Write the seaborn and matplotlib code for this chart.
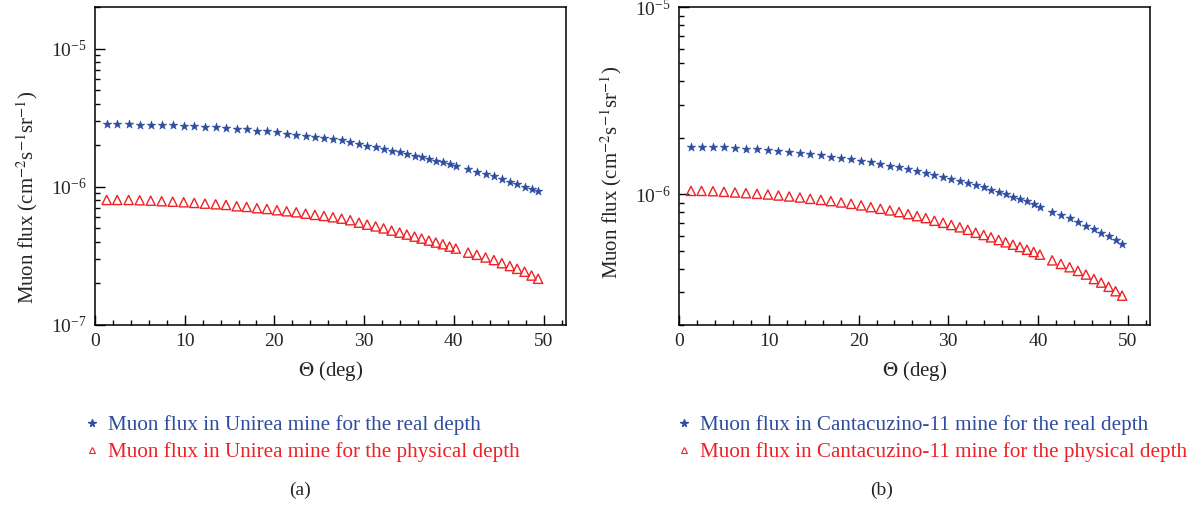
import numpy as np
import pandas as pd
import matplotlib
matplotlib.use("Agg")
import matplotlib.pyplot as plt
import seaborn as sns
from matplotlib.lines import Line2D
from matplotlib.ticker import LogLocator, MultipleLocator, NullFormatter

# zenith angle (deg), same grid for both mines
theta = [1.30, 2.48, 3.75, 4.98, 6.21, 7.43, 8.66, 9.88, 11.06, 12.26,
         13.45, 14.60, 15.79, 16.90, 18.05, 19.16, 20.28, 21.36, 22.43, 23.48,
         24.51, 25.52, 26.52, 27.49, 28.45, 29.42, 30.34, 31.28, 32.17, 33.06,
         33.95, 34.76, 35.62, 36.40, 37.21, 37.99, 38.77, 39.52, 40.22, 41.59,
         42.56, 43.53, 44.46, 45.35, 46.24, 47.05, 47.88, 48.66, 49.39]

# muon flux in units of 1e-6 cm^-2 s^-1 sr^-1
unirea_real = [2.84, 2.84, 2.84, 2.81, 2.81, 2.79, 2.78, 2.75, 2.75, 2.72,
               2.69, 2.66, 2.61, 2.60, 2.54, 2.52, 2.49, 2.43, 2.39, 2.35,
               2.29, 2.25, 2.20, 2.17, 2.11, 2.04, 1.98, 1.94, 1.88, 1.81,
               1.78, 1.73, 1.68, 1.63, 1.59, 1.54, 1.50, 1.47, 1.42, 1.34,
               1.29, 1.24, 1.19, 1.13, 1.09, 1.05, 1.00, 0.97, 0.93]
unirea_phys = [0.803, 0.803, 0.803, 0.799, 0.793, 0.786, 0.780, 0.773, 0.764, 0.755,
               0.747, 0.739, 0.723, 0.715, 0.700, 0.691, 0.677, 0.665, 0.654, 0.639,
               0.626, 0.615, 0.602, 0.588, 0.573, 0.550, 0.532, 0.517, 0.500, 0.482,
               0.466, 0.451, 0.436, 0.422, 0.408, 0.395, 0.384, 0.369, 0.357, 0.334,
               0.322, 0.308, 0.295, 0.280, 0.267, 0.255, 0.243, 0.228, 0.216]
canta_real = [1.796, 1.796, 1.786, 1.780, 1.765, 1.752, 1.737, 1.722, 1.701, 1.680,
              1.660, 1.640, 1.614, 1.588, 1.561, 1.536, 1.504, 1.481, 1.450, 1.422,
              1.393, 1.364, 1.337, 1.305, 1.273, 1.242, 1.209, 1.180, 1.152, 1.117,
              1.086, 1.059, 1.029, 1.000, 0.967, 0.940, 0.914, 0.885, 0.856, 0.805,
              0.773, 0.742, 0.707, 0.678, 0.651, 0.622, 0.595, 0.569, 0.542]
canta_phys = [1.041, 1.041, 1.037, 1.029, 1.021, 1.012, 1.004, 0.996, 0.984, 0.972,
              0.960, 0.944, 0.932, 0.918, 0.903, 0.888, 0.871, 0.852, 0.835, 0.819,
              0.802, 0.782, 0.763, 0.745, 0.721, 0.703, 0.684, 0.665, 0.645, 0.622,
              0.605, 0.588, 0.569, 0.553, 0.537, 0.522, 0.505, 0.491, 0.475, 0.443,
              0.424, 0.407, 0.389, 0.372, 0.352, 0.337, 0.320, 0.303, 0.287]

BLUE = "#2E4DA0"
RED = "#EE2226"

sns.set_theme(style="ticks")
plt.rcParams["font.family"] = ["Liberation Serif", "DejaVu Serif"]
plt.rcParams["mathtext.fontset"] = "stix"
plt.rcParams["axes.linewidth"] = 1.1

W, H = 1198, 509
fig = plt.figure(figsize=(W / 100, H / 100), dpi=100)


def px_axes(x0, y0, x1, y1):
    return fig.add_axes([x0 / W, 1 - y1 / H, (x1 - x0) / W, (y1 - y0) / H])


def draw_panel(ax, real, phys, ylim, mine, tag, tag_x, leg_x, label_y):
    df = pd.DataFrame({"theta": theta,
                       "real": np.array(real) * 1e-6,
                       "phys": np.array(phys) * 1e-6})
    sns.scatterplot(data=df, x="theta", y="real", marker="*", s=42,
                    color=BLUE, edgecolor=BLUE, linewidth=0.4, ax=ax, zorder=3)
    sns.scatterplot(data=df, x="theta", y="phys", marker="^", s=44,
                    color=RED, facecolor="none", edgecolor=RED, linewidth=1.0,
                    ax=ax, zorder=3)
    ax.set_yscale("log")
    ax.set_xlim(0, 52.5)
    ax.set_ylim(*ylim)
    ax.xaxis.set_major_locator(MultipleLocator(10))
    ax.xaxis.set_minor_locator(MultipleLocator(2))
    ax.yaxis.set_major_locator(LogLocator(base=10))
    ax.yaxis.set_minor_locator(LogLocator(base=10, subs=np.arange(2, 10)))
    ax.yaxis.set_minor_formatter(NullFormatter())
    ax.tick_params(which="both", direction="in", top=False, right=False,
                   labelsize=14, color="black", width=1.0, pad=6)
    ax.tick_params(which="major", length=7)
    ax.tick_params(which="minor", length=3.5)
    for sp in ax.spines.values():
        sp.set_color("black")
    ax.set_xlabel(r"$\Theta$ (deg)", fontsize=15, labelpad=6)
    ax.set_ylabel(r"Muon flux (cm$^{-2}$s$^{-1}$sr$^{-1}$)", fontsize=15)
    ax.yaxis.set_label_coords(-0.117, label_y)

    h1 = Line2D([], [], marker="*", ls="", color=BLUE, ms=5.5)
    h2 = Line2D([], [], marker="^", ls="", mfc="none", mec=RED, ms=4.2, mew=0.8)
    ax.legend([h1, h2],
              [f"Muon flux in {mine} mine for the real depth",
               f"Muon flux in {mine} mine for the physical depth"],
              loc="upper left", bbox_to_anchor=(leg_x / W, 1 - 415 / H),
              bbox_transform=fig.transFigure, frameon=False, fontsize=15.2,
              labelcolor=[BLUE, RED], handlelength=0.8, handletextpad=0.36,
              borderpad=0, borderaxespad=0, labelspacing=0.36)
    fig.text(tag_x / W, 1 - 490 / H, tag, ha="center", va="center", fontsize=14)


ax1 = px_axes(95, 7, 566, 325)
ax2 = px_axes(679.3, 7, 1150, 325)
draw_panel(ax1, unirea_real, unirea_phys, (1e-7, 2e-5), "Unirea", "(a)", 300, 83.7, 0.40)
draw_panel(ax2, canta_real, canta_phys, (2e-7, 1e-5), "Cantacuzino-11", "(b)", 882, 676, 0.48)

fig.savefig("out.png", dpi=100, facecolor="white")
